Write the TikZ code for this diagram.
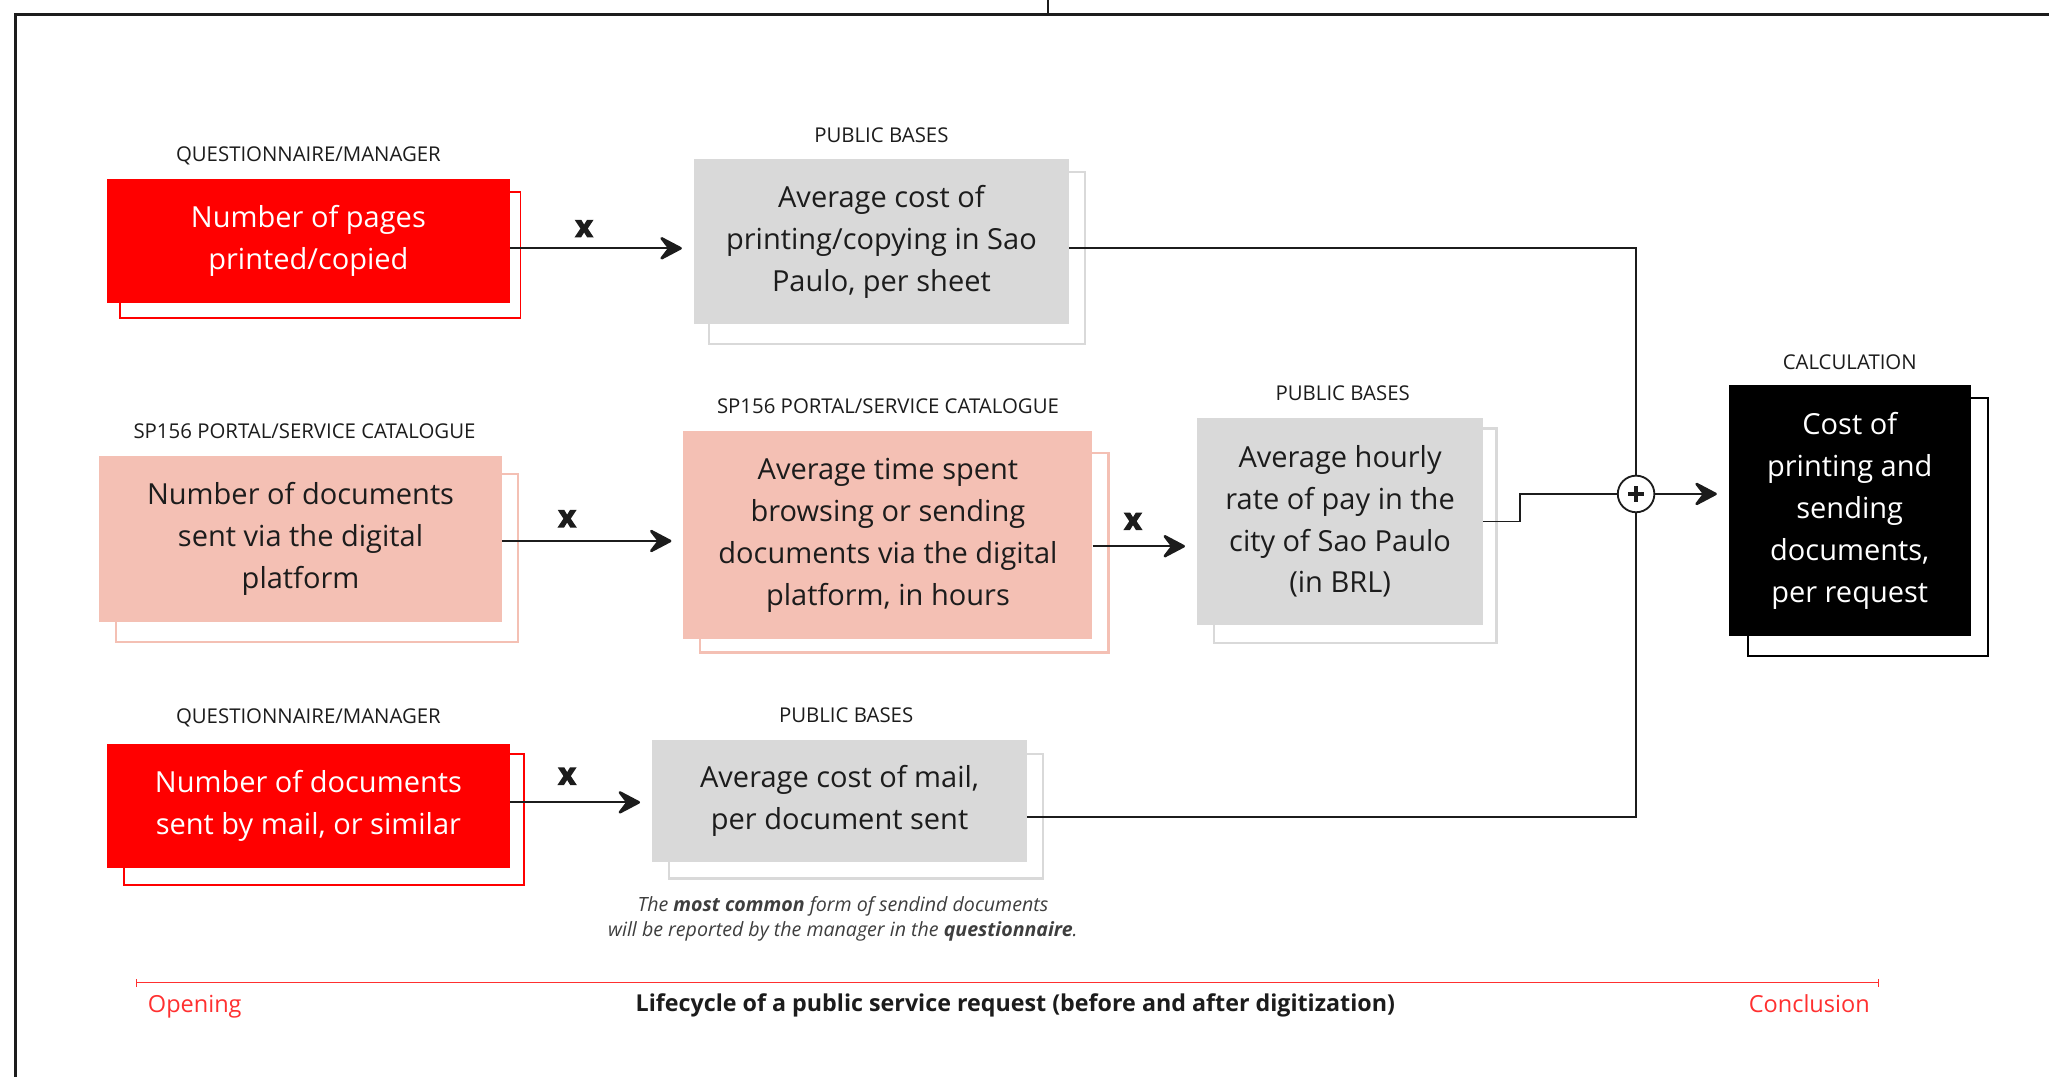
\documentclass[tikz,border=0pt]{standalone}
\usepackage{fontspec}
\setmainfont{Open Sans}
\newfontfamily\heavyfont{Open Sans}[FakeBold=4]
\usetikzlibrary{arrows.meta,backgrounds,calc}

\definecolor{brandred}{HTML}{FF0000}
\definecolor{salmon}{HTML}{F4C0B4}
\definecolor{paper}{HTML}{D9D9D9}
\definecolor{ink}{HTML}{1C1C1C}
\definecolor{tlred}{HTML}{FF3030}

\tikzset{
  box/.style={rectangle, inner sep=0pt, align=center, font=\fontsize{22.2}{32}\selectfont,
    execute at begin node={\rule{0pt}{21pt}}},
  redbox/.style={box, fill=brandred, text=white},
  pinkbox/.style={box, fill=salmon, text=ink},
  greybox/.style={box, fill=paper, text=ink},
  darkbox/.style={box, fill=black, text=white},
  shadowred/.style={draw=brandred, line width=1.3pt},
  shadowpink/.style={draw=salmon, line width=1.8pt},
  shadowgrey/.style={draw=paper, line width=1.8pt},
  shadowdark/.style={draw=black, line width=1.3pt},
  srclabel/.style={font=\fontsize{15.6}{18}\selectfont, text=ink, inner sep=0pt, anchor=base},
  flow/.style={draw=ink, line width=1.4pt, shorten >=9pt,
    -{Stealth[length=20pt,width=21pt,inset=8pt,line width=2pt,round]}},
  wire/.style={draw=ink, line width=1.3pt},
  times/.style={font=\fontsize{23}{23}\heavyfont\bfseries, text=ink, inner sep=0pt},
  frame/.style={draw=ink, line width=2pt},
  timeline/.style={draw=tlred, line width=1.2pt, {Bar[width=6pt]}-{Bar[width=6pt]}},
}

\begin{document}
\begin{tikzpicture}[x=1pt,y=-1pt]
\useasboundingbox (0,0) rectangle (1568,824);

% outer frame
\coordinate (fr-bl) at (12,824);
\coordinate (fr-tl) at (12,11);
\coordinate (fr-tr) at (1568,11);
\coordinate (fr-top) at (802,0);
\coordinate (fr-joint) at (802,11);
\draw[frame] (fr-bl) -- (fr-tl) -- (fr-tr);
\draw[frame] (fr-top) -- (fr-joint);

% boxes
\node[redbox, minimum width=308pt, minimum height=95pt] (a1) at (236,184.5)
  {Number of pages\\printed/copied};
\node[greybox, minimum width=287pt, minimum height=126pt] (b1) at (674.5,185)
  {Average cost of\\printing/copying in Sao\\Paulo, per sheet};
\node[pinkbox, minimum width=308pt, minimum height=127pt] (a2) at (230,412.5)
  {Number of documents\\sent via the digital\\platform};
\node[pinkbox, minimum width=313pt, minimum height=159pt] (b2) at (679.5,409.5)
  {Average time spent\\browsing or sending\\documents via the digital\\platform, in hours};
\node[greybox, minimum width=219pt, minimum height=158pt] (c2) at (1025.5,399)
  {Average hourly\\rate of pay in the\\city of Sao Paulo\\(in BRL)};
\node[darkbox, minimum width=185pt, minimum height=192pt] (d) at (1415.5,391)
  {Cost of\\printing and\\sending\\documents,\\per request};
\node[redbox, minimum width=308pt, minimum height=95pt] (a3) at (236,616.5)
  {Number of documents\\sent by mail, or similar};
\node[greybox, minimum width=287pt, minimum height=94pt] (b3) at (642.5,613)
  {Average cost of mail,\\per document sent};

% stacked-sheet outlines behind each box
\begin{scope}[on background layer]
  \draw[shadowred]  ($(a1.north west)+(10,10)$) rectangle ($(a1.south east)+(8,11)$);
  \draw[shadowgrey] ($(b1.north west)+(12,10)$) rectangle ($(b1.south east)+(12,15)$);
  \draw[shadowpink] ($(a2.north west)+(13,14)$) rectangle ($(a2.south east)+(12,15)$);
  \draw[shadowpink] ($(b2.north west)+(13,17)$) rectangle ($(b2.south east)+(12,10)$);
  \draw[shadowgrey] ($(c2.north west)+(13,8)$) rectangle ($(c2.south east)+(10,14)$);
  \draw[shadowdark] ($(d.north west)+(15,10)$) rectangle ($(d.south east)+(13,15)$);
  \draw[shadowred]  ($(a3.north west)+(13,8)$) rectangle ($(a3.south east)+(11,13)$);
  \draw[shadowgrey] ($(b3.north west)+(13,11)$) rectangle ($(b3.south east)+(12,12)$);
\end{scope}

% source labels
\node[srclabel] (a1src) at ($(a1.north)+(0,-13)$) {QUESTIONNAIRE/MANAGER};
\node[srclabel] (b1src) at ($(b1.north)+(0,-13)$) {PUBLIC BASES};
\node[srclabel] (a2src) at ($(a2.north)+(3,-13)$) {SP156 PORTAL/SERVICE CATALOGUE};
\node[srclabel] (b2src) at ($(b2.north)+(0,-13)$) {SP156 PORTAL/SERVICE CATALOGUE};
\node[srclabel] (c2src) at ($(c2.north)+(2,-13)$) {PUBLIC BASES};
\node[srclabel] (dsrc)  at ($(d.north)+(0,-12)$)  {CALCULATION};
\node[srclabel] (a3src) at ($(a3.north)+(0,-15)$) {QUESTIONNAIRE/MANAGER};
\node[srclabel] (b3src) at ($(b3.north)+(5,-13)$) {PUBLIC BASES};

% sum junction
\node[circle, draw=ink, fill=white, line width=1.4pt, minimum size=28pt, inner sep=0pt] (plus) at (1252,378) {};
\draw[ink, line width=3pt] ($(plus.center)+(-6,0)$) -- ($(plus.center)+(6,0)$);
\draw[ink, line width=3pt] ($(plus.center)+(0,-6)$) -- ($(plus.center)+(0,6)$);

% multiplications
\draw[flow] (a1.east |- 0,190) -- (b1.west |- 0,190);
\draw[flow] (a2.east |- 0,414) -- (b2.west |- 0,414);
\draw[flow] (b2.east |- 0,418) -- (c2.west |- 0,418);
\draw[flow] (a3.east |- 0,614) -- (b3.west |- 0,614);
\node[times] (x1) at (447,175) {x};
\node[times] (x2) at (434,397) {x};
\node[times] (x3) at (867,399) {x};
\node[times] (x4) at (434,594) {x};

% summation
\coordinate (step) at (1163,399);
\draw[wire] (b1.east |- 0,190) -| (plus.north);
\draw[wire] (b3.east |- 0,625) -| (plus.south);
\draw[wire] (c2.east |- step) -- (step) |- (plus.west);
\draw[flow] (plus.east) -- (d.west |- plus.east);

% footnote
\node[align=center, font=\fontsize{15}{19}\selectfont\itshape, text=ink!85, inner sep=0pt] (note) at (645,703)
  {The \textbf{most common} form of sendind documents\\will be reported by the manager in the \textbf{questionnaire}.};

% lifecycle timeline
\coordinate (tl0) at (104,752);
\coordinate (tl1) at (1438,752);
\draw[timeline] (tl0) -- (tl1);
\node[anchor=base west, font=\fontsize{18}{20}\selectfont, text=tlred, inner sep=0pt] (open) at (113,775) {Opening};
\node[anchor=base east, font=\fontsize{18}{20}\selectfont, text=tlred, inner sep=0pt] (close) at (1431,775) {Conclusion};
\node[anchor=base, font=\fontsize{17.8}{20}\selectfont\bfseries, text=ink, inner sep=0pt] (title) at (777,774)
  {Lifecycle of a public service request (before and after digitization)};
\end{tikzpicture}
\end{document}
